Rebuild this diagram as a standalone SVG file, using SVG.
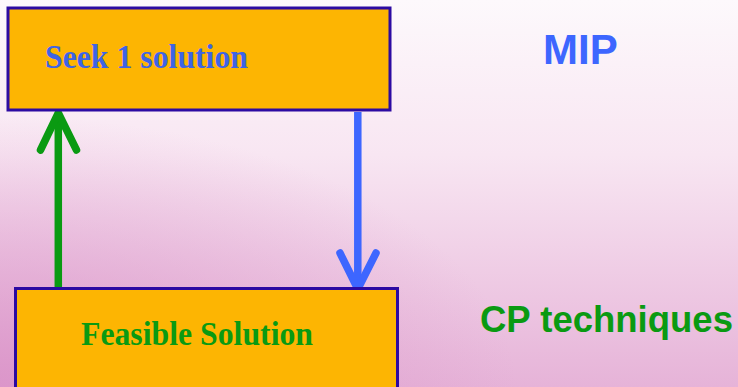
<svg xmlns="http://www.w3.org/2000/svg" width="738" height="387" viewBox="0 0 738 387">
<defs>
<linearGradient id="bg" x1="0" y1="0" x2="0" y2="1">
<stop offset="0" stop-color="#fdf9fc"/>
<stop offset="0.4" stop-color="#f8e6f2"/>
<stop offset="1" stop-color="#e6b3d8"/>
</linearGradient>
<radialGradient id="bl" cx="0" cy="1" r="0.7">
<stop offset="0" stop-color="#d88cc5" stop-opacity="0.75"/>
<stop offset="1" stop-color="#d88cc5" stop-opacity="0"/>
</radialGradient>
</defs>
<style>
.box{fill:#fdb502;stroke:#2c0aa2;stroke-width:3}
.serif{font-family:"Liberation Serif","Times New Roman",serif;font-weight:bold}
.sans{font-family:"Liberation Sans",Arial,sans-serif;font-weight:bold}
.arm{fill:none;stroke-width:7.5;stroke-linecap:round;stroke-linejoin:round}
</style>
<rect width="738" height="387" fill="url(#bg)"/>
<rect width="738" height="387" fill="url(#bl)"/>
<g id="connectors">
<g id="c-up" stroke="#0a9a12">
<line x1="58.3" y1="290" x2="58.3" y2="116" stroke-width="7.5"/>
<polyline class="arm" points="40.5,150 58.3,113 76.5,150"/>
</g>
<g id="c-down" stroke="#3d66ff">
<line x1="357.8" y1="112" x2="357.8" y2="286" stroke-width="7.5"/>
<polyline class="arm" points="340,253 357.8,289 376,253"/>
</g>
</g>
<g id="seek">
<rect class="box" x="8" y="8" width="382" height="102"/>
<text class="serif" x="45" y="67.5" font-size="34" fill="#3e64e6" textLength="203" lengthAdjust="spacingAndGlyphs">Seek 1 solution</text>
</g>
<g id="feasible">
<rect class="box" x="15.5" y="288.5" width="382" height="110"/>
<text class="serif" x="81" y="345" font-size="33" fill="#0a9a12" textLength="232" lengthAdjust="spacingAndGlyphs">Feasible Solution</text>
</g>
<g id="mip">
<text class="sans" x="543" y="64" font-size="42" fill="#3d66ff">MIP</text>
</g>
<g id="cp">
<text class="sans" x="480" y="332" font-size="36" fill="#0a9a12" textLength="253" lengthAdjust="spacingAndGlyphs">CP techniques</text>
</g>
</svg>
